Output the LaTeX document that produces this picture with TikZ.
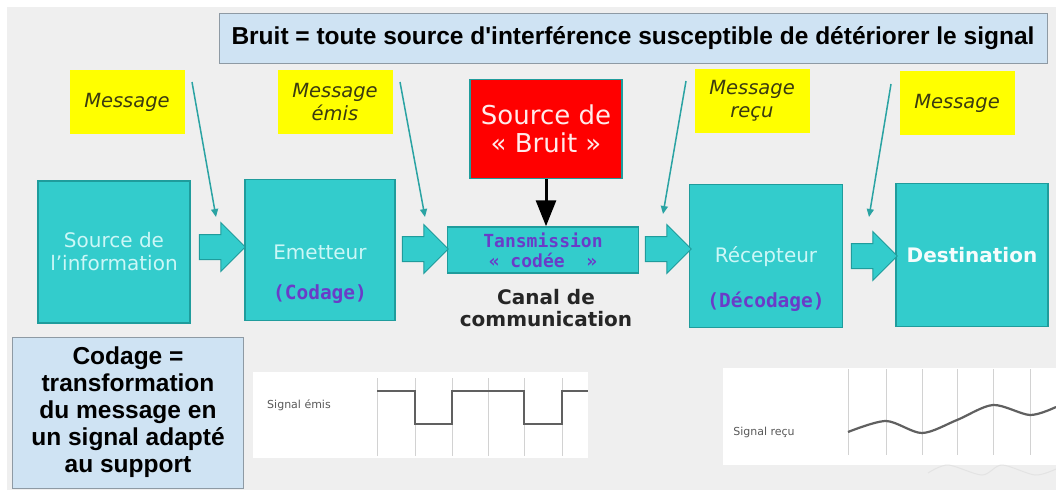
\documentclass[tikz,border=0pt]{standalone}
\usepackage{fontspec}
\setmainfont{DejaVu Sans}
\newfontfamily\arialfont{Liberation Sans}
\newfontfamily\codefont{DejaVu Sans Mono}
\usetikzlibrary{arrows.meta, shapes.arrows}

\definecolor{fondgris}{HTML}{EFEFEF}
\definecolor{turquoise}{HTML}{33CCCC}
\definecolor{turqbord}{HTML}{1F9C9C}
\definecolor{turqfleche}{HTML}{2AA3A3}
\definecolor{textclair}{HTML}{CCF7F7}
\definecolor{violet}{HTML}{6A3CC8}
\definecolor{bleupale}{HTML}{CFE3F3}
\definecolor{bordgris}{HTML}{8E9AA4}
\definecolor{jaune}{HTML}{FFFF00}
\definecolor{textjaune}{HTML}{3A3A10}
\definecolor{rouge}{HTML}{FF0000}

\begin{document}
\begin{tikzpicture}[x=1pt, y=-1pt,
  bloc/.style={draw=turqbord, line width=1.5pt, fill=turquoise, inner sep=0pt},
  etiquette/.style={fill=jaune, text=textjaune, inner sep=0pt, minimum width=115pt, minimum height=64pt, align=center, font=\itshape\fontsize{19.5}{23}\selectfont},
  encadre/.style={draw=bordgris, line width=1pt, fill=bleupale, inner sep=0pt, align=center},
  blanc/.style={text=textclair, font=\fontsize{20}{23}\selectfont, align=center},
  code/.style={text=violet, font=\codefont\bfseries\fontsize{19.5}{21}\selectfont, align=center},
  fleche/.style={turqfleche, line width=1.5pt, -{Triangle[length=8pt,width=7pt]}},
  grosfleche/.style={single arrow, draw=turqbord, line width=1pt, fill=turquoise, minimum height=46pt, minimum width=48pt, single arrow head extend=12pt, single arrow head indent=0pt, inner xsep=0pt, inner ysep=12pt},
  grille/.style={gray!35, line width=0.8pt},
  signal/.style={gray!75!black, line width=2.2pt},
  petit/.style={text=gray!70!black, font=\fontsize{11}{12}\selectfont}]

\useasboundingbox (0,0) rectangle (1056,490);
\fill[white] (0,0) rectangle (1056,490);
\fill[fondgris] (7,7) rectangle (1056,490);

% bandeau du haut
\node[encadre, minimum width=828pt, minimum height=50pt, font=\arialfont\bfseries\fontsize{24.5}{28}\selectfont] (def) at (633,38) {Bruit = toute source d'interférence susceptible de détériorer le signal};

% etiquettes jaunes
\node[etiquette] (msg1) at (127,102) {Message};
\node[etiquette] (msg2) at (335,102) {Message\\émis};
\node[etiquette] (msg3) at (752,101) {Message\\reçu};
\node[etiquette] (msg4) at (957,103) {Message};

% blocs de la chaine
\node[bloc, minimum width=152pt, minimum height=142pt] (source) at (114,252) {};
\node[blanc] (tsource) at (114,252) {Source de\\l'information};

\node[bloc, minimum width=150pt, minimum height=141pt] (emet) at (320,250) {};
\node[blanc] (temet) at (320,252) {Emetteur};
\node[code] (cemet) at (320,294) {(Codage)};

\node[bloc, minimum width=191pt, minimum height=46pt] (trans) at (543,250) {};
\node[code, font=\codefont\bfseries\fontsize{18}{20}\selectfont] (ttrans) at (543,250) {Tansmission\\« codée~~»};
\node[font=\bfseries\fontsize{20}{21.5}\selectfont, text=black!85, align=center] (canal) at (546,308) {Canal de\\communication};

\node[bloc, minimum width=153pt, minimum height=143pt] (recep) at (766,256) {};
\node[blanc] (trecep) at (766,257) {Récepteur};
\node[code] (crecep) at (766,302) {(Décodage)};

\node[bloc, minimum width=152pt, minimum height=143pt] (dest) at (972,255) {};
\node[blanc, text=white!95!turquoise, font=\bfseries\fontsize{20}{23}\selectfont] (tdest) at (972,255) {Destination};

% source de bruit
\node[fill=rouge, draw=turqbord, line width=1.5pt, minimum width=152pt, minimum height=99pt, text=white!92!rouge, align=center, font=\fontsize{26}{28}\selectfont] (bruit) at (546,129) {Source de\\« Bruit »};
\draw[black, line width=3pt, -{Triangle[length=26pt,width=20pt]}] (bruit.south) -- (trans.north -| bruit.south);

% grosses fleches
\node[grosfleche] (f1) at (216,247) {};
\node[grosfleche] (f2) at (419,249) {};
\node[grosfleche] (f3) at (662,249) {};
\node[grosfleche] (f4) at (868,256) {};

% fleches fines
\coordinate (a1) at (192,82);  \coordinate (b1) at (216,217);
\coordinate (a2) at (400,82);  \coordinate (b2) at (425,217);
\coordinate (a3) at (686,81);  \coordinate (b3) at (663,214);
\coordinate (a4) at (891,84);  \coordinate (b4) at (869,217);
\foreach \i in {1,...,4}
  \draw[fleche] (a\i) -- (b\i);

% definition du codage
\node[encadre, minimum width=231pt, minimum height=151pt, font=\arialfont\bfseries\fontsize{24.5}{27}\selectfont] (codage) at (128,412.5) {Codage =\\transformation\\du message en\\un signal adapté\\au support};

% signal emis
\fill[white] (253,372) rectangle (588,458);
\node[petit] (temis) at (299,405) {Signal émis};
\foreach \x in {377,415,452,488,524,562}
  \draw[grille] (\x,378) -- (\x,456);
\draw[signal] (377,391) -- (415,391) -- (415,424) -- (452,424) -- (452,391) -- (524,391)
  -- (524,424) -- (562,424) -- (562,391) -- (588,391);

% signal recu
\fill[white] (723,368) rectangle (1056,465);
\node[petit] (trecu) at (764,432) {Signal reçu};
\foreach \x in {848,886,922,957,993,1030}
  \draw[grille] (\x,369) -- (\x,455);
\draw[signal] plot[smooth] coordinates {(848,432) (886,421) (922,433) (957,420) (993,405) (1030,415) (1056,407)};
\draw[gray!22, line width=1pt] plot[smooth] coordinates {(928,473) (948,465) (982,475) (1002,465) (1035,475) (1056,469)};

\end{tikzpicture}
\end{document}
